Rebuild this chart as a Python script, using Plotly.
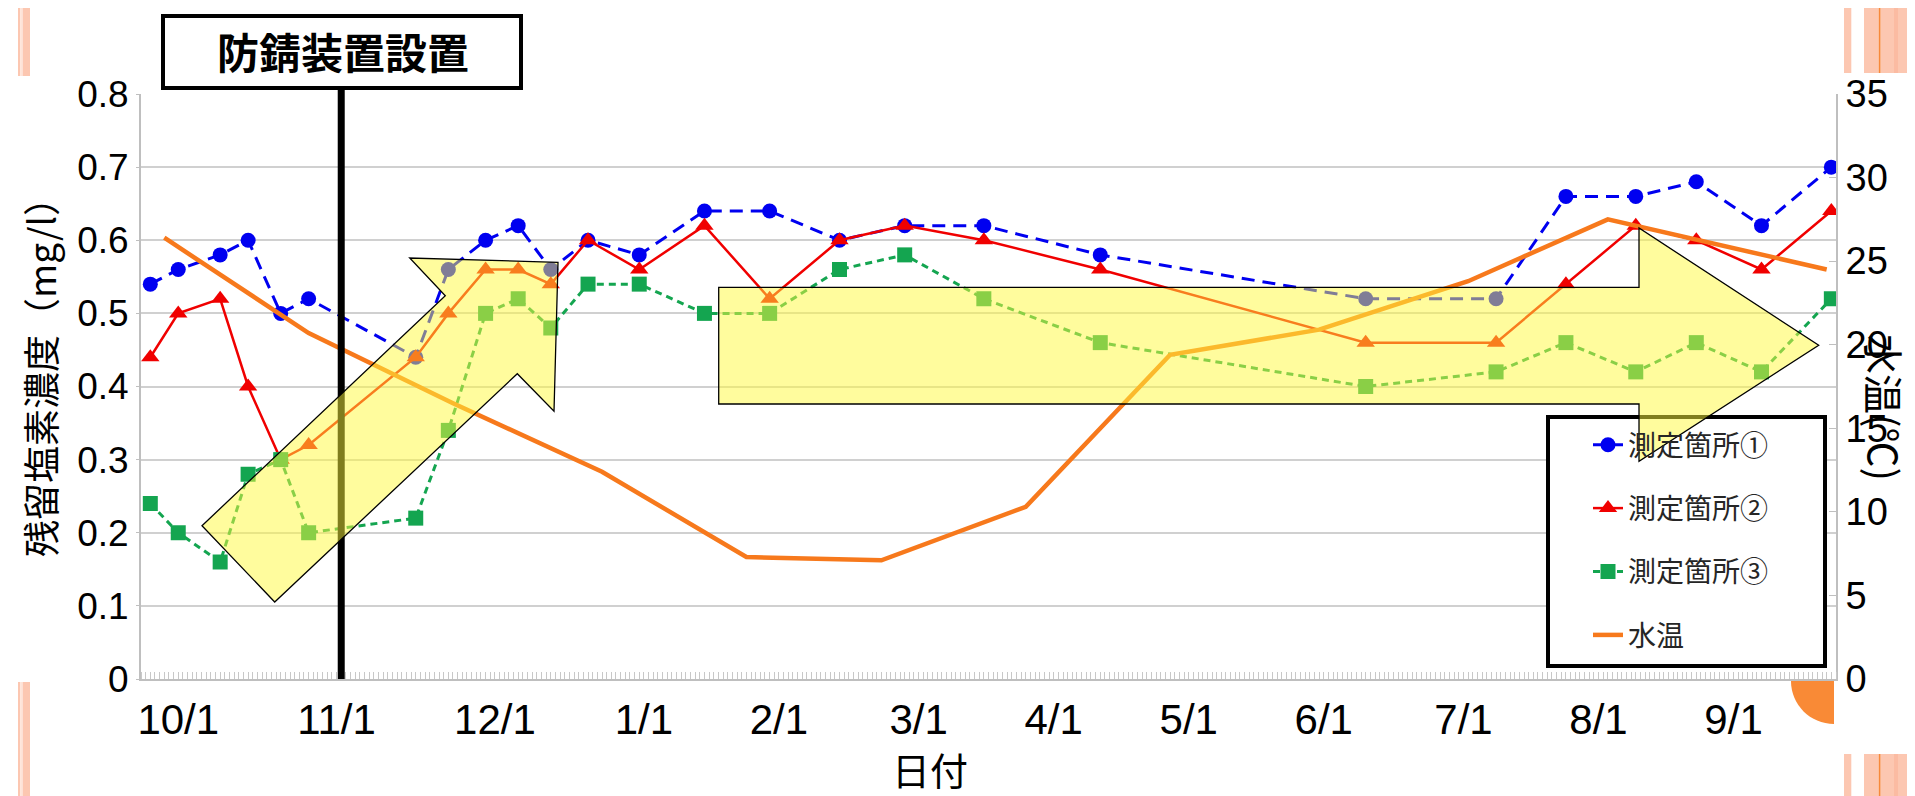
import plotly.graph_objects as go

# ---------------- data ----------------
dates = ["2012-09-25", "2012-10-01", "2012-10-10", "2012-10-16", "2012-10-23", "2012-10-29",
         "2012-11-21", "2012-11-28", "2012-12-06", "2012-12-13", "2012-12-20", "2012-12-28",
         "2013-01-08", "2013-01-22", "2013-02-05", "2013-02-20", "2013-03-06", "2013-03-23",
         "2013-04-17", "2013-06-13", "2013-07-11", "2013-07-26", "2013-08-10", "2013-08-23",
         "2013-09-06", "2013-09-21"]
site1 = [0.54, 0.56, 0.58, 0.60, 0.50, 0.52, 0.44, 0.56, 0.60, 0.62, 0.56, 0.60, 0.58,
         0.64, 0.64, 0.60, 0.62, 0.62, 0.58, 0.52, 0.52, 0.66, 0.66, 0.68, 0.62, 0.70]
site2 = [0.44, 0.50, 0.52, 0.40, 0.30, 0.32, 0.44, 0.50, 0.56, 0.56, 0.54, 0.60, 0.56,
         0.62, 0.52, 0.60, 0.62, 0.60, 0.56, 0.46, 0.46, 0.54, 0.62, 0.60, 0.56, 0.64]
site3 = [0.24, 0.20, 0.16, 0.28, 0.30, 0.20, 0.22, 0.34, 0.50, 0.52, 0.48, 0.54, 0.54,
         0.50, 0.50, 0.56, 0.58, 0.52, 0.46, 0.40, 0.42, 0.46, 0.42, 0.46, 0.42, 0.52]

temp_dates = ["2012-09-28", "2012-10-29", "2012-11-29", "2012-12-31", "2013-01-31", "2013-03-01",
              "2013-04-01", "2013-05-02", "2013-06-03", "2013-07-05", "2013-08-04", "2013-09-20"]
water_temp = [26.4, 20.7, 16.5, 12.4, 7.3, 7.1, 10.3, 19.4, 20.9, 23.8, 27.5, 24.5]

series_names = ["測定箇所①", "測定箇所②", "測定箇所③", "水温"]

x_tick_labels = ["10/1", "11/1", "12/1", "1/1", "2/1", "3/1", "4/1", "5/1", "6/1", "7/1", "8/1", "9/1"]
# label positions as they appear in the picture
x_tick_dates = ["2012-10-01", "2012-11-04", "2012-12-08", "2013-01-09", "2013-02-07", "2013-03-09",
                "2013-04-07", "2013-05-06", "2013-06-04", "2013-07-04", "2013-08-02", "2013-08-31"]
y_tick_vals = [0, 0.1, 0.2, 0.3, 0.4, 0.5, 0.6, 0.7, 0.8]
y_tick_text = ["0", "0.1", "0.2", "0.3", "0.4", "0.5", "0.6", "0.7", "0.8"]
y2_tick_vals = [0, 5, 10, 15, 20, 25, 30, 35]

install_date = "2012-11-05"
install_label = "防錆装置設置"
y_title = "残留塩素濃度（mg/l）"
y2_title = "水温(℃)"
x_title = "日付"

# ---------------- styling ----------------
W, H = 1915, 796
L, R, T, B = 133, 1828, 86, 671
NUM = "Liberation Sans, Arial, sans-serif"
CJK = "Noto Sans CJK JP, sans-serif"
BLUE, RED, GREEN, ORANGE = "#0000F0", "#F00000", "#14A550", "#F7791C"


def P(x, y):
    return (x - L) / (R - L), (B - y) / (B - T)


def poly(points):
    s = ""
    for i, (x, y) in enumerate(points):
        xp, yp = P(x, y)
        s += ("M" if i == 0 else "L") + f"{xp:.5f},{yp:.5f} "
    return s + "Z"


fig = go.Figure()
fig.add_trace(go.Scatter(x=dates, y=site1, name=series_names[0], mode="lines+markers",
                         line=dict(color=BLUE, width=3, dash="13px,8px"),
                         marker=dict(symbol="circle", size=15, color=BLUE),
                         legendgroup="a"))
fig.add_trace(go.Scatter(x=dates, y=site2, name=series_names[1], mode="lines+markers",
                         line=dict(color=RED, width=2.5),
                         marker=dict(symbol="triangle-up", size=16, color=RED),
                         legendgroup="b"))
fig.add_trace(go.Scatter(x=dates, y=site3, name=series_names[2], mode="lines+markers",
                         line=dict(color=GREEN, width=3, dash="7px,5px"),
                         marker=dict(symbol="square", size=15, color=GREEN),
                         legendgroup="c"))
fig.add_trace(go.Scatter(x=temp_dates, y=water_temp, name=series_names[3], mode="lines",
                         line=dict(color=ORANGE, width=4.5), yaxis="y2",
                         legendgroup="d"))

shapes = []
# slide decoration stripes
SAL, SAL2, LIGHT, ORL = "#FCC7B1", "#FBBBA2", "#FEE4D8", "#F7893B"
for (y0, y1) in [(0, 68), (674, 796)]:
    for (x0, x1, c) in [(10, 12.3, SAL), (12.3, 14.7, LIGHT), (14.7, 22, SAL)]:
        a, b = P(x0, y1); cc, d = P(x1, y0)
        shapes.append(dict(type="rect", xref="paper", yref="paper", x0=a, x1=cc, y0=b, y1=d,
                           fillcolor=c, line=dict(width=0), layer="above"))
for (y0, y1) in [(0, 65), (746, 796)]:
    for (x0, x1, c) in [(1836, 1843.3, SAL), (1856, 1870.7, SAL), (1870.7, 1872.7, ORL),
                        (1872.7, 1886, SAL), (1886, 1890, SAL2), (1890, 1915, SAL)]:
        a, b = P(x0, y1); cc, d = P(x1, y0)
        shapes.append(dict(type="rect", xref="paper", yref="paper", x0=a, x1=cc, y0=b, y1=d,
                           fillcolor=c, line=dict(width=0), layer="above"))

# orange quarter disc bottom-right
cx, cy, r, k = 1826, 673, 43, 0.5523
pts = [P(cx, cy), P(cx - r, cy), P(cx - r, cy + k * r), P(cx - k * r, cy + r), P(cx, cy + r)]
qpath = (f"M{pts[0][0]:.5f},{pts[0][1]:.5f} L{pts[1][0]:.5f},{pts[1][1]:.5f} "
         f"C{pts[2][0]:.5f},{pts[2][1]:.5f} {pts[3][0]:.5f},{pts[3][1]:.5f} {pts[4][0]:.5f},{pts[4][1]:.5f} Z")
shapes.append(dict(type="path", xref="paper", yref="paper", path=qpath, fillcolor="#F98A36",
                   line=dict(width=0), layer="above"))

# installation marker line + label box
bx0, by0 = P(155, 80)
bx1, by1 = P(513, 8)
shapes.append(dict(type="line", xref="x", yref="paper", x0=install_date, x1=install_date,
                   y0=0, y1=by0, line=dict(color="black", width=7), layer="above"))
shapes.append(dict(type="rect", xref="paper", yref="paper", x0=bx0, x1=bx1, y0=by0, y1=by1,
                   fillcolor="white", line=dict(color="black", width=4), layer="above"))

# legend frame
lx0, ly0 = P(1540, 658)
lx1, ly1 = P(1817, 409)
shapes.append(dict(type="rect", xref="paper", yref="paper", x0=lx0, x1=lx1, y0=ly0, y1=ly1,
                   fillcolor="white", line=dict(color="black", width=4), layer="above"))

# yellow arrows
ARROW_FILL = "rgba(255,250,60,0.5)"
arrow1 = [(194, 517.7), (437.3, 287.7), (401.7, 250), (550, 254.3), (546, 403.3),
          (509.3, 365.7), (266.7, 594)]
arrow2 = [(710.7, 279.3), (1631, 279.3), (1631, 220), (1810.7, 337.3), (1631, 453.3),
          (1631, 396), (710.7, 396)]
for a in (arrow1, arrow2):
    shapes.append(dict(type="path", xref="paper", yref="paper", path=poly(a),
                       fillcolor=ARROW_FILL, line=dict(color="black", width=1.3), layer="above"))

annotations = []
ax, ay = P(335, 42)
annotations.append(dict(xref="paper", yref="paper", x=ax, y=ay, text=f"<b>{install_label}</b>",
                        showarrow=False, xanchor="center", yanchor="middle",
                        font=dict(family=CJK, size=42, color="black")))
ax, ay = P(32, 360)
annotations.append(dict(xref="paper", yref="paper", x=ax, y=ay, text=y_title, textangle=-90,
                        showarrow=False, xanchor="center", yanchor="middle",
                        font=dict(family=CJK, size=37, color="black")))
ax, ay = P(1877, 399)
annotations.append(dict(xref="paper", yref="paper", x=ax, y=ay, text=y2_title, textangle=90,
                        showarrow=False, xanchor="center", yanchor="middle",
                        font=dict(family=CJK, size=40, color="black")))
ax, ay = P(922, 761)
annotations.append(dict(xref="paper", yref="paper", x=ax, y=ay, text=x_title,
                        showarrow=False, xanchor="center", yanchor="middle",
                        font=dict(family=CJK, size=38, color="black")))

legx, legy = P(1580, 412)
fig.update_layout(
    width=W, height=H,
    margin=dict(l=L, r=W - R, t=T, b=H - B, pad=0, autoexpand=False),
    paper_bgcolor="white", plot_bgcolor="white",
    showlegend=True,
    legend=dict(x=legx, y=legy, xanchor="left", yanchor="top", bgcolor="rgba(0,0,0,0)",
                borderwidth=0, font=dict(family=CJK, size=28, color="#262626"),
                tracegroupgap=24, itemwidth=30, traceorder="grouped"),
    xaxis=dict(type="date", range=["2012-09-23", "2013-09-22"], tickmode="array",
               tickvals=x_tick_dates, ticktext=x_tick_labels, ticks="", showgrid=False,
               showline=True, linecolor="#bfbfbf", linewidth=2, zeroline=False, automargin=False,
               tickfont=dict(family=NUM, size=42, color="black"), ticklabelstandoff=3,
               minor=dict(ticks="inside", ticklen=7, tickcolor="#c8c8c8", tickwidth=1,
                          tickmode="linear", tick0="2012-09-23", dtick=86400000, showgrid=False)),
    yaxis=dict(range=[0, 0.8], tickmode="array", tickvals=y_tick_vals, ticktext=y_tick_text,
               showgrid=True, gridcolor="#d0d0d0", gridwidth=2, showline=True, automargin=False,
               linecolor="#bfbfbf", linewidth=2, ticks="outside", ticklen=3, tickcolor="#bfbfbf",
               zeroline=False, tickfont=dict(family=NUM, size=37, color="black")),
    yaxis2=dict(range=[0, 35], overlaying="y", side="right", tickmode="array", automargin=False,
                tickvals=y2_tick_vals, showgrid=False, showline=True, linecolor="#bfbfbf",
                linewidth=2, ticks="inside", ticklen=7, tickcolor="#bfbfbf", zeroline=False,
                tickfont=dict(family=NUM, size=38, color="black")),
    shapes=shapes, annotations=annotations,
)

fig.write_html("out.html")
